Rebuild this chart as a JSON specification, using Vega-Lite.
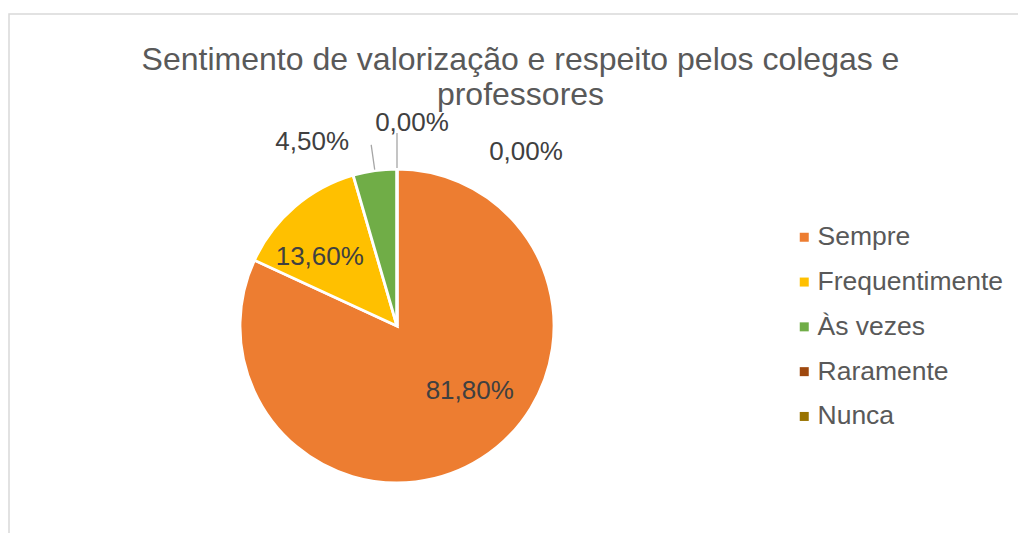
{
  "$schema": "https://vega.github.io/schema/vega-lite/v6.json",
  "width": 1040,
  "height": 540,
  "autosize": {"type": "none"},
  "padding": {"left": 9, "top": 14, "right": -31, "bottom": -21},
  "background": "white",
  "view": {"stroke": "#D9D9D9", "strokeWidth": 1.5},
  "config": {
    "view": {"stroke": "#D9D9D9", "strokeWidth": 1.5},
    "font": "Liberation Sans",
    "locale": {"number": {"decimal": ",", "thousands": ".", "grouping": [3], "currency": ["R$", ""]}}
  },
  "title": {
    "text": ["Sentimento de valorização e respeito pelos colegas e", "professores"],
    "fontSize": 32,
    "font": "Liberation Sans",
    "fontWeight": "normal",
    "color": "#595959",
    "anchor": "middle",
    "frame": "group",
    "baseline": "alphabetic",
    "offset": -123,
    "dx": -8.5,
    "lineHeight": 35
  },
  "data": {
    "values": [
      {"cat": "Sempre", "v": 0.818},
      {"cat": "Frequentimente", "v": 0.136},
      {"cat": "Às vezes", "v": 0.045},
      {"cat": "Raramente", "v": 0},
      {"cat": "Nunca", "v": 0}
    ]
  },
  "encoding": {
    "theta": {"field": "v", "type": "quantitative", "stack": true},
    "order": {"field": "v", "type": "quantitative", "sort": "descending"},
    "detail": {"field": "cat", "type": "nominal"}
  },
  "layer": [
    {
      "mark": {"type": "arc", "radius": 157, "x": 388, "y": 312, "stroke": "white", "strokeWidth": 2.8},
      "encoding": {
        "color": {
          "field": "cat",
          "type": "nominal",
          "scale": {
            "domain": ["Sempre", "Frequentimente", "Às vezes", "Raramente", "Nunca"],
            "range": ["#ED7D31", "#FFC000", "#70AD47", "#9E480E", "#997300"]
          },
          "legend": {
            "title": null,
            "orient": "none",
            "legendX": 782,
            "legendY": 210,
            "padding": 0,
            "symbolType": "square",
            "symbolSize": 81,
            "symbolStrokeWidth": 0,
            "labelFontSize": 26.5,
            "labelFont": "Liberation Sans",
            "labelColor": "#595959",
            "labelOffset": 0,
            "rowPadding": 17.8,
            "labelLimit": 300
          }
        }
      }
    },
    {
      "mark": {"type": "arc", "radius": 183, "radius2": 158, "x": 388, "y": 312, "padAngle": 3.14, "stroke": "#A6A6A6", "strokeWidth": 1.3, "fillOpacity": 0},
      "encoding": {
        "strokeOpacity": {"condition": {"test": "datum.cat === 'Às vezes'", "value": 1}, "value": 0}
      }
    },
    {
      "mark": {"type": "arc", "radius": 193, "radius2": 158, "x": 388, "y": 312, "padAngle": 3.14, "stroke": "#A6A6A6", "strokeWidth": 1.3, "fillOpacity": 0},
      "encoding": {
        "strokeOpacity": {"condition": {"test": "datum.cat === 'Raramente'", "value": 1}, "value": 0}
      }
    },
    {
      "mark": {"type": "text", "radius": 96, "x": 388, "y": 312, "dx": 21, "dy": -16, "fontSize": 26, "fill": "#404040", "align": "center", "baseline": "middle"},
      "encoding": {
        "text": {"condition": {"test": "datum.cat === 'Sempre'", "field": "v", "type": "quantitative", "format": ".2%"}, "value": ""}
      }
    },
    {
      "mark": {"type": "text", "radius": 100, "x": 388, "y": 312, "dx": -12, "dy": 7, "fontSize": 26, "fill": "#404040", "align": "center", "baseline": "middle"},
      "encoding": {
        "text": {"condition": {"test": "datum.cat === 'Frequentimente'", "field": "v", "type": "quantitative", "format": ".2%"}, "value": ""}
      }
    },
    {
      "mark": {"type": "text", "radius": 190, "x": 388, "y": 312, "dx": -58, "dy": 4, "fontSize": 26, "fill": "#404040", "align": "center", "baseline": "middle"},
      "encoding": {
        "text": {"condition": {"test": "datum.cat === 'Às vezes'", "field": "v", "type": "quantitative", "format": ".2%"}, "value": ""}
      }
    },
    {
      "mark": {"type": "text", "radius": 205, "x": 388, "y": 312, "dx": 15, "dy": 2, "fontSize": 26, "fill": "#404040", "align": "center", "baseline": "middle"},
      "encoding": {
        "text": {"condition": {"test": "datum.cat === 'Raramente'", "field": "v", "type": "quantitative", "format": ".2%"}, "value": ""}
      }
    },
    {
      "mark": {"type": "text", "radius": 176, "x": 388, "y": 312, "dx": 129, "dy": 2, "fontSize": 26, "fill": "#404040", "align": "center", "baseline": "middle"},
      "encoding": {
        "text": {"condition": {"test": "datum.cat === 'Nunca'", "field": "v", "type": "quantitative", "format": ".2%"}, "value": ""}
      }
    }
  ]
}
